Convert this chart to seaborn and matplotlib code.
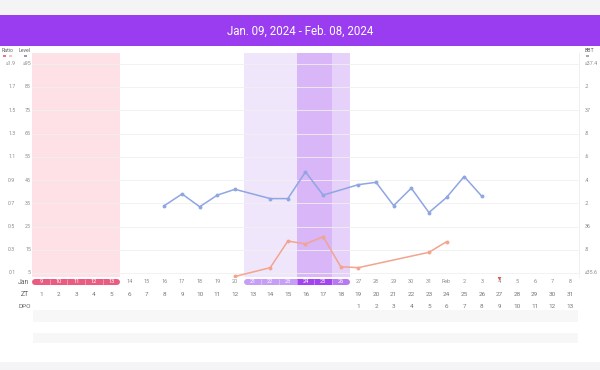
import numpy as np
import pandas as pd
import matplotlib
matplotlib.use("Agg")
import matplotlib.pyplot as plt
import matplotlib.transforms as mtransforms
from matplotlib.patches import Rectangle
import seaborn as sns

# ---------------- data ----------------
title = "Jan. 09, 2024 - Feb. 08, 2024"
zt_days = list(range(1, 32))
date_labels = ["9", "10", "11", "12", "13", "14", "15", "16", "17", "18", "19", "20",
               "21", "22", "23", "24", "25", "26", "27", "28", "29", "30", "31",
               "Feb", "2", "3", "4", "5", "6", "7", "8"]
dpo_labels = [""] * 18 + [str(i) for i in range(1, 14)]

ratio_ticks = [1.9, 1.7, 1.5, 1.3, 1.1, 0.9, 0.7, 0.5, 0.3, 0.1]
ratio_labels = ["≥1.9", "1.7", "1.5", "1.3", "1.1", "0.9", "0.7", "0.5", "0.3", "0.1"]
level_labels = ["≥95", "85", "75", "65", "55", "45", "35", "25", "15", "5"]
bbt_ticks = [37.4, 37.2, 37.0, 36.8, 36.6, 36.4, 36.2, 36.0, 35.8, 35.6]
bbt_labels = ["≥37.4", ".2", "37", ".8", ".6", ".4", ".2", "36", ".8", "≤35.6"]

bbt_days = [8, 9, 10, 11, 12, 14, 15, 16, 17, 19, 20, 21, 22, 23, 24, 25, 26]
bbt_values = [36.18, 36.28, 36.17, 36.27, 36.32, 36.24, 36.24, 36.47, 36.27,
              36.36, 36.38, 36.18, 36.33, 36.12, 36.25, 36.43, 36.26]

ratio_days = [12, 14, 15, 16, 17, 18, 19, 23, 24]
ratio_values = [0.07, 0.146, 0.375, 0.35, 0.412, 0.154, 0.146, 0.278, 0.369]

period_days = [1, 2, 3, 4, 5]
fertile_light_days = [13, 14, 15]
fertile_peak_days = [16, 17]
fertile_end_days = [18]
marker_day = 27

# ---------------- style ----------------
sns.set_theme(style="white")
plt.rcParams["font.family"] = ["Roboto", "DejaVu Sans"]

W, H = 600, 370
fig = plt.figure(figsize=(6, 3.7), dpi=100)
fig.patch.set_facecolor("white")

def frac(x0, y0, x1, y1):
    return [x0 / W, 1 - y1 / H, (x1 - x0) / W, (y1 - y0) / H]

# overlay in pixel coordinates
ov = fig.add_axes([0, 0, 1, 1], zorder=0)
ov.set_xlim(0, W)
ov.set_ylim(H, 0)
ov.axis("off")
ov.add_patch(Rectangle((0, 0), W, 15, color="#f4f4f6", lw=0))
ov.add_patch(Rectangle((0, 15), W, 31, color="#9a3cf0", lw=0))
ov.add_patch(Rectangle((0, 362), W, 8, color="#f4f4f6", lw=0))
ov.text(300, 31, title, color="white", fontsize=8.3, ha="center", va="center")

X0, X1 = 32.2, 578.8
Y0, Y1 = 53, 277
ax = fig.add_axes(frac(X0, Y0, X1, Y1), zorder=1)
ax.set_xlim(0.5, 31.5)
r_lo = 0.1 - (Y1 - 273) / 23.25 * 0.2
r_hi = 0.1 + (273 - Y0) / 23.25 * 0.2
ax.set_ylim(r_lo, r_hi)
for s in ax.spines.values():
    s.set_visible(False)
ax.spines["right"].set_visible(True)
ax.spines["right"].set_color("#eeeeee")
ax.spines["right"].set_linewidth(0.6)
ax.set_xticks([])
ax.set_yticks(ratio_ticks)
ax.set_yticklabels([])
ax.tick_params(axis="y", length=0)
ax.grid(axis="y", color="#f0f0f0", linewidth=0.6)

for d in period_days:
    ax.axvspan(d - 0.5, d + 0.5, color="#fde1e7", lw=0, zorder=0)
for d in fertile_light_days:
    ax.axvspan(d - 0.5, d + 0.5, color="#f0e6fc", lw=0, zorder=0)
for d in fertile_peak_days:
    ax.axvspan(d - 0.5, d + 0.5, color="#d8b6f7", lw=0, zorder=0)
for d in fertile_end_days:
    ax.axvspan(d - 0.5, d + 0.5, color="#e5d1fa", lw=0, zorder=0)

sns.lineplot(x=ratio_days, y=ratio_values, ax=ax, color="#f2a48e", linewidth=1.1,
             marker="o", markersize=2.8, markeredgewidth=0, zorder=3)

ax2 = ax.twinx()
b_lo = 35.6 - (Y1 - 273) / 23.25 * 0.2
b_hi = 35.6 + (273 - Y0) / 23.25 * 0.2
ax2.set_ylim(b_lo, b_hi)
ax2.set_yticks([])
for s in ax2.spines.values():
    s.set_visible(False)
sns.lineplot(x=bbt_days, y=bbt_values, ax=ax2, color="#8fa6e2", linewidth=1.1,
             marker="o", markersize=2.8, markeredgewidth=0, zorder=3)
ax2.set_xlim(0.5, 31.5)
ax2.set_ylabel("")
ax.set_ylabel("")

# axis label columns
tr_left = mtransforms.blended_transform_factory(ov.transData, ax.transData)
tr_right = mtransforms.blended_transform_factory(ov.transData, ax2.transData)
lab_col = "#8a8a8a"
for v, lr, ll in zip(ratio_ticks, ratio_labels, level_labels):
    ax.text(15.5, v, lr, transform=tr_left, fontsize=3.8, color=lab_col, ha="right", va="center")
    ax.text(31, v, ll, transform=tr_left, fontsize=3.8, color=lab_col, ha="right", va="center")
for v, lb in zip(bbt_ticks, bbt_labels):
    ax2.text(585, v, lb, transform=tr_right, fontsize=3.8, color=lab_col, ha="left", va="center")
ov.text(2, 50, "Ratio", fontsize=3.8, color="#666666", ha="left", va="center")
ov.text(19, 50, "Level", fontsize=3.8, color="#666666", ha="left", va="center")
ov.text(585, 50, "BBT", fontsize=3.8, color="#666666", ha="left", va="center")
ov.plot([3, 6], [55.5, 55.5], color="#e8576f", lw=1.2, solid_capstyle="butt")
ov.plot([9, 12], [55.5, 55.5], color="#f5b5bd", lw=1.2, solid_capstyle="butt")
ov.plot([24, 27], [55.5, 55.5], color="#8a7fb8", lw=1.2, solid_capstyle="butt")
ov.plot([586, 589], [55.5, 55.5], color="#999999", lw=1.2, solid_capstyle="butt")

# bottom table
bt = fig.add_axes(frac(X0, Y1, X1, 352), zorder=1, sharex=ax)
bt.set_ylim(352, Y1)
bt.axis("off")
bt.patch.set_alpha(0)

pill_y = 281.8
pill_lw = 6 * 72 / 100

def pill(days, colors):
    r = 3 / ((X1 - X0) / 31)
    for i, (d, c) in enumerate(zip(days, colors)):
        a, b = d - 0.5, d + 0.5
        if i == 0:
            bt.plot([a + r, d], [pill_y, pill_y], color=c, lw=pill_lw, solid_capstyle="round")
            a = d
        if i == len(days) - 1:
            bt.plot([d, b - r], [pill_y, pill_y], color=c, lw=pill_lw, solid_capstyle="round")
            b = d
        bt.plot([a, b], [pill_y, pill_y], color=c, lw=pill_lw, solid_capstyle="butt")
    for d in days[1:]:
        bt.plot([d - 0.5, d - 0.5], [pill_y - 3, pill_y + 3], color="white", lw=0.4, alpha=0.6)

pill(period_days, ["#ea5c7f"] * len(period_days))
pill(fertile_light_days + fertile_peak_days + fertile_end_days,
     ["#c79ef6"] * 3 + ["#a244ef"] * 2 + ["#b877f3"])

in_pill = set(period_days + fertile_light_days + fertile_peak_days + fertile_end_days)
for d, lab in zip(zt_days, date_labels):
    bt.text(d, pill_y, lab, fontsize=4, ha="center", va="center",
            color="white" if d in in_pill else "#8c8c8c")
for d in zt_days:
    bt.text(d, 295, str(d), fontsize=4.6, ha="center", va="center", color="#777777")
for d, lab in zip(zt_days, dpo_labels):
    if lab:
        bt.text(d, 307, lab, fontsize=4.6, ha="center", va="center", color="#777777")
bt.plot([marker_day], [277.8], marker="v", color="#e0594b", markersize=3.2, markeredgewidth=0)

ov.text(29, 282, "Jan", fontsize=5, color="#666666", ha="right", va="center")
ov.text(29, 295, "ZT", fontsize=5, color="#666666", ha="right", va="center")
ov.text(31, 307, "DPO", fontsize=4.6, color="#666666", ha="right", va="center")
ov.add_patch(Rectangle((33, 310), 545, 12, color="#f7f7f8", lw=0))
ov.add_patch(Rectangle((33, 333), 545, 10, color="#f7f7f8", lw=0))

fig.savefig("out.png", dpi=100)
